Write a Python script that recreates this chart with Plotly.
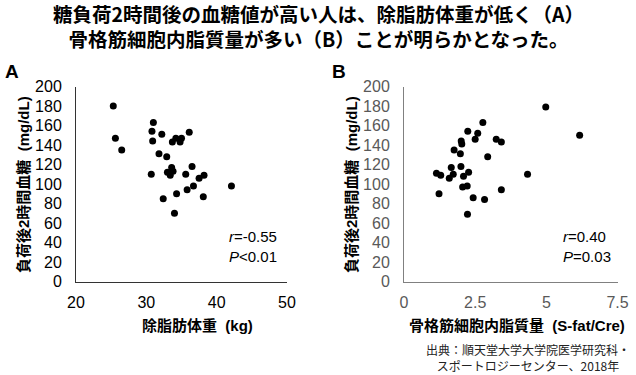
import plotly.graph_objects as go

W, H = 636, 375

# Data
a_x = [25.3, 25.6, 26.5, 31.0, 30.8, 30.9, 32.2, 31.8, 32.9, 30.7, 33.7, 34.2, 34.8, 35.0, 36.1,
       33.6, 33.0, 33.4, 33.8, 35.6, 36.5, 38.2, 37.5, 36.7, 35.8, 34.3, 32.4, 38.1, 34.0, 42.1]
a_y = [180, 147, 135, 163, 154, 144, 151, 131, 128, 110, 143, 147, 143, 147, 153,
       117, 112, 109, 113, 110, 118, 109, 106, 98, 94, 90, 85, 87, 70, 98]

b_x = [4.98, 6.17, 4.34, 3.42, 2.77, 2.24, 2.59, 2.50, 3.24, 3.42, 2.01, 2.03, 1.76, 1.98, 2.94,
       1.66, 2.00, 1.14, 1.29, 1.73, 1.59, 2.27, 2.09, 2.06, 2.22, 1.23, 2.43, 2.83, 2.23]
b_y = [179, 150, 110, 94, 163, 154, 152, 146, 146, 143, 144, 141, 135, 131, 128,
       117, 118, 111, 109, 110, 106, 112, 108, 97, 98, 90, 86, 84, 69]

a_xticks = [20, 30, 40, 50]
b_xticks = [0, 2.5, 5, 7.5]
b_xticktext = ["0", "2.5", "5", "7.5"]
yticks = [0, 20, 40, 60, 80, 100, 120, 140, 160, 180, 200]

title_text = ("糖負荷2時間後の血糖値が高い人は、除脂肪体重が低く（A）<br>"
              "骨格筋細胞内脂質量が多い（B）ことが明らかとなった。")
y_title = "負荷後2時間血糖  (mg/dL)"
a_xtitle = "除脂肪体重  (kg)"
b_xtitle = "骨格筋細胞内脂質量  (S-fat/Cre)"
a_stats = "<i>r</i>=-0.55<br><i>P</i>&lt;0.01"
b_stats = "<i>r</i>=0.40<br><i>P</i>=0.03"
source = "出典：順天堂大学大学院医学研究科・<br>スポートロジーセンター、2018年"

FONT = "Liberation Sans, Arial, Noto Sans CJK JP, sans-serif"
JFONT = "Noto Sans CJK JP, Liberation Sans, sans-serif"


def px(x):
    return x / W


def py(y):
    return 1 - y / H


fig = go.Figure()
fig.add_trace(go.Scatter(x=a_x, y=a_y, mode="markers", xaxis="x", yaxis="y",
                         marker=dict(color="black", size=7), showlegend=False))
fig.add_trace(go.Scatter(x=b_x, y=b_y, mode="markers", xaxis="x2", yaxis="y2",
                         marker=dict(color="black", size=7), showlegend=False))

ydom = [py(281.5), py(86.5)]
common_y = dict(range=[0, 200], tickvals=yticks, showgrid=False, zeroline=False,
                showline=True, linewidth=1, ticks="outside", ticklen=10,
                tickcolor="rgba(0,0,0,0)", domain=ydom, fixedrange=True, automargin=False)
common_x = dict(showgrid=False, zeroline=False, showline=True, linewidth=1,
                ticks="outside", ticklen=6, tickcolor="rgba(0,0,0,0)", fixedrange=True,
                automargin=False)

fig.update_layout(
    width=W, height=H,
    margin=dict(l=0, r=0, t=0, b=0, autoexpand=False),
    paper_bgcolor="white", plot_bgcolor="white",
    font=dict(family=FONT, size=15, color="black"),
    xaxis=dict(common_x, range=[20, 50], tickvals=a_xticks, domain=[px(76), px(287)],
               linecolor="#333333", anchor="y",
               tickfont=dict(size=16, color="black")),
    yaxis=dict(common_y, linecolor="#333333", anchor="x",
               tickfont=dict(size=16, color="black")),
    xaxis2=dict(common_x, range=[0, 7.5], tickvals=b_xticks, ticktext=b_xticktext,
                domain=[px(404), px(617.5)], linecolor="#808080", anchor="y2",
                tickfont=dict(size=16, color="#595959")),
    yaxis2=dict(common_y, linecolor="#808080", anchor="x2",
                tickfont=dict(size=16, color="#595959")),
)

ann = []
ann.append(dict(text="<b>" + title_text + "</b>", x=px(318), y=py(26), xref="paper", yref="paper",
                showarrow=False, font=dict(family=JFONT, size=19.5, color="black"),
                xanchor="center", yanchor="middle", align="center"))
ann.append(dict(text="<b>A</b>", x=px(3), y=py(72), xref="paper", yref="paper", showarrow=False,
                font=dict(family=FONT, size=19), xanchor="left", yanchor="middle"))
ann.append(dict(text="<b>B</b>", x=px(330), y=py(72), xref="paper", yref="paper", showarrow=False,
                font=dict(family=FONT, size=19), xanchor="left", yanchor="middle"))
ann.append(dict(text="<b>" + y_title + "</b>", x=px(23), y=py(185), xref="paper", yref="paper",
                showarrow=False, textangle=-90, font=dict(family=FONT, size=15),
                xanchor="center", yanchor="middle"))
ann.append(dict(text="<b>" + y_title + "</b>", x=px(351), y=py(185), xref="paper", yref="paper",
                showarrow=False, textangle=-90, font=dict(family=FONT, size=15),
                xanchor="center", yanchor="middle"))
ann.append(dict(text="<b>" + a_xtitle + "</b>", x=px(197), y=py(325), xref="paper", yref="paper",
                showarrow=False, font=dict(family=FONT, size=15),
                xanchor="center", yanchor="middle"))
ann.append(dict(text="<b>" + b_xtitle + "</b>", x=px(517), y=py(325), xref="paper", yref="paper",
                showarrow=False, font=dict(family=FONT, size=15),
                xanchor="center", yanchor="middle"))
ann.append(dict(text=a_stats, x=px(227), y=py(247), xref="paper", yref="paper", showarrow=False,
                font=dict(family=FONT, size=15), xanchor="left", yanchor="middle", align="left"))
ann.append(dict(text=b_stats, x=px(561), y=py(247), xref="paper", yref="paper", showarrow=False,
                font=dict(family=FONT, size=15), xanchor="left", yanchor="middle", align="left"))
ann.append(dict(text=source, x=px(528), y=py(357), xref="paper", yref="paper", showarrow=False,
                font=dict(family=JFONT, size=12, color="#222222"), xanchor="center",
                yanchor="middle", align="center"))
fig.update_layout(annotations=ann)

fig.write_html("out.html", config={"displayModeBar": False, "staticPlot": False},
               post_script="document.body.style.margin='0';document.body.style.padding='0';"
                           "document.body.style.overflow='hidden';")
